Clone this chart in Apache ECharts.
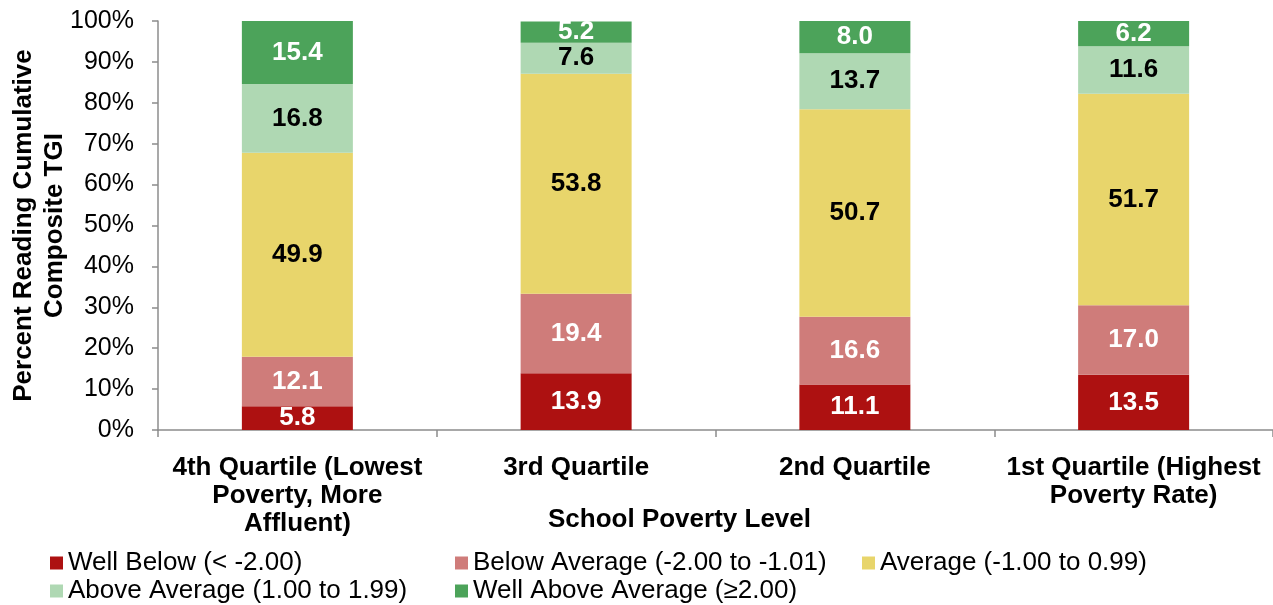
<!DOCTYPE html>
<html>
<head>
<meta charset="utf-8">
<script src="https://cdn.jsdelivr.net/npm/echarts@6/dist/echarts.min.js"></script>
<style>
  html, body { margin: 0; padding: 0; background: #fff; }
  #chart { width: 1273px; height: 605px; }
</style>
</head>
<body>
<div id="chart"></div>
<script>
const categories = [
  '4th Quartile (Lowest\nPoverty, More\nAffluent)',
  '3rd Quartile',
  '2nd Quartile',
  '1st Quartile (Highest\nPoverty Rate)'
];
const seriesNames = [
  'Well Below (< -2.00)',
  'Below Average (-2.00 to -1.01)',
  'Average (-1.00 to 0.99)',
  'Above Average (1.00 to 1.99)',
  'Well Above Average (≥2.00)'
];
const wellBelow = [5.8, 13.9, 11.1, 13.5];
const belowAverage = [12.1, 19.4, 16.6, 17.0];
const average = [49.9, 53.8, 50.7, 51.7];
const aboveAverage = [16.8, 7.6, 13.7, 11.6];
const wellAbove = [15.4, 5.2, 8.0, 6.2];
const yTicks = [0, 10, 20, 30, 40, 50, 60, 70, 80, 90, 100];

const colors = ['#AD1111', '#CF7C7A', '#E8D56B', '#AFD8B3', '#4CA35A'];
const labelColors = ['#fff', '#fff', '#000', '#000', '#fff'];
const font = 'Liberation Sans, Arial, sans-serif';
const values = [wellBelow, belowAverage, average, aboveAverage, wellAbove];

// legend slots (two rows, fixed columns)
const legendPos = [[50, 550], [455, 550], [862, 550], [50, 578], [455, 578]];

const chart = echarts.init(document.getElementById('chart'));

const option = {
  animation: false,
  color: colors,
  title: {
    text: 'School Poverty Level',
    left: 543,
    top: 502,
    textStyle: { fontFamily: font, fontSize: 26, fontWeight: 'bold', color: '#000' }
  },
  legend: seriesNames.map((n, i) => ({
    data: [n],
    left: legendPos[i][0],
    top: legendPos[i][1],
    padding: 0,
    icon: 'rect',
    itemWidth: 13,
    itemHeight: 13,
    selectedMode: false,
    textStyle: { fontFamily: font, fontSize: 26, color: '#000', lineHeight: 26 }
  })),
  grid: {
    left: 158,
    right: 0,
    top: 21,
    bottom: 175,
    containLabel: false,
    outerBoundsMode: 'none'
  },
  xAxis: {
    type: 'category',
    data: categories,
    axisLine: { lineStyle: { color: '#8c8c8c', width: 1.5 } },
    axisTick: { show: true, length: 7, lineStyle: { color: '#8c8c8c', width: 1.5 } },
    axisLabel: {
      interval: 0,
      margin: 24,
      fontFamily: font,
      fontSize: 26,
      fontWeight: 'bold',
      color: '#000',
      lineHeight: 28
    }
  },
  yAxis: {
    type: 'value',
    min: 0,
    max: 100,
    interval: 10,
    name: 'Percent Reading Cumulative\nComposite TGI',
    nameLocation: 'middle',
    nameGap: 88,
    nameMoveOverlap: false,
    nameTextStyle: { fontFamily: font, fontSize: 26, fontWeight: 'bold', color: '#000', lineHeight: 31 },
    splitLine: { show: false },
    axisLine: { show: true, lineStyle: { color: '#8c8c8c', width: 1.5 } },
    axisTick: { show: true, length: 6, lineStyle: { color: '#8c8c8c', width: 1.5 } },
    axisLabel: {
      margin: 24,
      fontFamily: font,
      fontSize: 25,
      color: '#000',
      formatter: v => (yTicks.includes(v) ? v + '%' : '')
    }
  },
  series: seriesNames.map((n, i) => ({
    name: n,
    type: 'bar',
    stack: 'total',
    barWidth: 111,
    data: values[i],
    itemStyle: { color: colors[i] },
    label: {
      show: true,
      position: 'inside',
      fontFamily: font,
      fontSize: 26,
      fontWeight: 'bold',
      color: labelColors[i],
      formatter: p => p.value.toFixed(1)
    }
  }))
};

chart.setOption(option);
</script>
</body>
</html>
